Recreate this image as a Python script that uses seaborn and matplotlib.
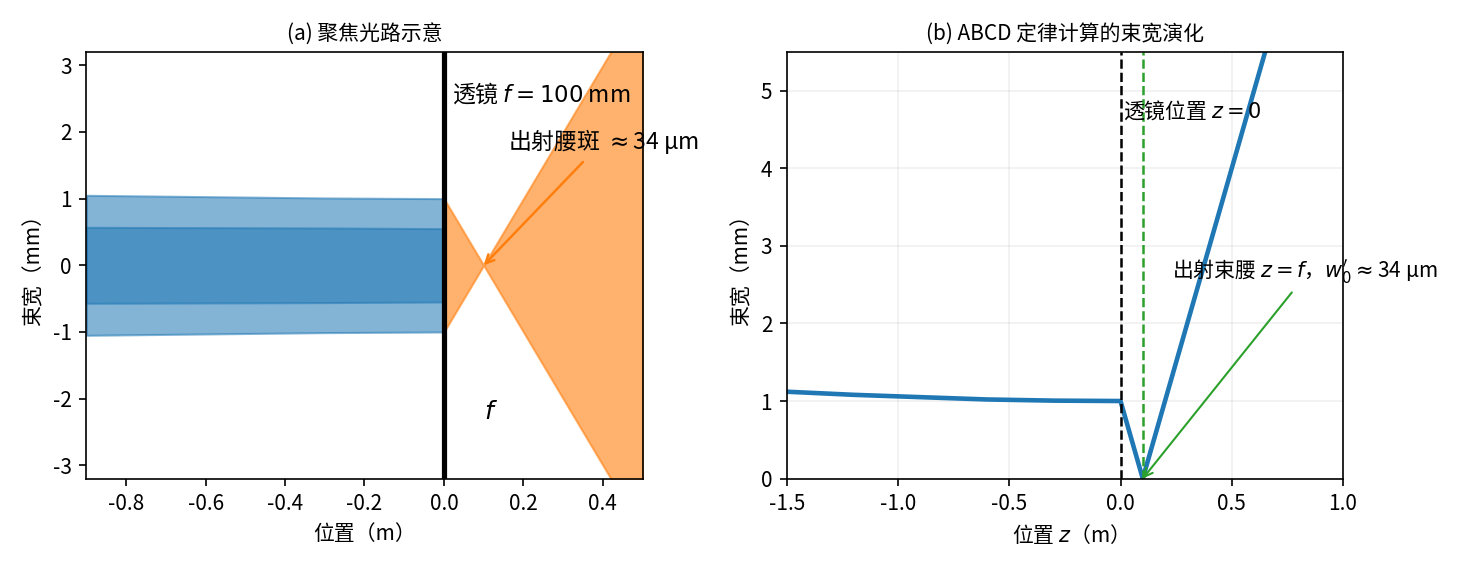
import seaborn as sns
import matplotlib.pyplot as plt
import numpy as np
import pandas as pd

sns.set_style('white')
plt.rcParams['font.family'] = ['Noto Sans CJK SC', 'DejaVu Sans']
plt.rcParams['axes.unicode_minus'] = False
plt.rcParams['mathtext.fontset'] = 'dejavusans'
plt.rcParams['text.color'] = 'black'
plt.rcParams['axes.labelcolor'] = 'black'
plt.rcParams['xtick.color'] = 'black'
plt.rcParams['ytick.color'] = 'black'

# panel (a): beam outline before and after the lens
z_in = [-0.9, -0.6, -0.3, 0.0]
w_outer = [1.05, 1.03, 1.01, 1.0]
w_inner = [0.57, 0.565, 0.56, 0.55]
z_out = [0.0, 0.1, 0.5]
w_out = [1.0, 0.0, 4.0]

# panel (b): ABCD beam width
z_abcd = [-1.5, -1.2, -0.9, -0.6, -0.3, 0.0, 0.1, 0.3, 0.65]
w_abcd = [1.12, 1.08, 1.05, 1.02, 1.005, 1.0, 0.0, 2.0, 5.5]

fig, (ax1, ax2) = plt.subplots(1, 2, figsize=(9.81, 3.8), dpi=150)

blue = '#1f77b4'
ax1.fill_between(z_in, -np.array(w_outer), w_outer, color=blue, alpha=0.55, lw=1)
ax1.fill_between(z_in, -np.array(w_inner), w_inner, color=blue, alpha=0.55, lw=1)
ax1.fill_between(z_out, -np.array(w_out), w_out, color='#ff7f0e', alpha=0.6, lw=1)
ax1.axvline(0, color='black', lw=2.5)
ax1.text(0.02, 2.45, '透镜 $f=100$ mm', fontsize=11)
ax1.text(0.1, -2.3, '$f$', fontsize=12)
ax1.text(0.16, 1.75, '出射腰斑 $\\approx$34 μm', fontsize=11)
ax1.annotate('', xy=(0.1, 0), xytext=(0.35, 1.55),
             arrowprops=dict(arrowstyle='->', color='#ff7f0e', lw=1.2, shrinkA=0, shrinkB=0))
ax1.set_xlim(-0.9, 0.5)
ax1.set_ylim(-3.2, 3.2)
ax1.set_title('(a) 聚焦光路示意', fontsize=10)
ax1.set_xlabel('位置（m）')
ax1.set_ylabel('束宽（mm）')

df = pd.DataFrame({'z': z_abcd, 'w': w_abcd})
sns.lineplot(data=df, x='z', y='w', ax=ax2, color=blue, lw=2.2)
ax2.axvline(0, color='black', ls='--', lw=1.2)
ax2.axvline(0.1, color='#2ca02c', ls='--', lw=1.2)
ax2.text(0.01, 4.65, '透镜位置 $z=0$', fontsize=10)
ax2.text(0.23, 2.6, "出射束腰 $z=f$，$w_0'\\approx$34 μm", fontsize=10)
ax2.annotate('', xy=(0.1, 0), xytext=(0.77, 2.4),
             arrowprops=dict(arrowstyle='->', color='#2ca02c', lw=1, shrinkA=0, shrinkB=0))
ax2.set_xlim(-1.5, 1.0)
ax2.set_ylim(0, 5.5)
ax2.grid(True, alpha=0.3)
ax2.set_title('(b) ABCD 定律计算的束宽演化', fontsize=10)
ax2.set_xlabel('位置 $z$（m）')
ax2.set_ylabel('束宽（mm）')
for ax in (ax1, ax2):
    for s in ax.spines.values():
        s.set_color('black')
        s.set_linewidth(0.8)
    ax.tick_params(left=True, bottom=True, length=3.5, width=0.8)

plt.tight_layout()
plt.savefig('out.png')
